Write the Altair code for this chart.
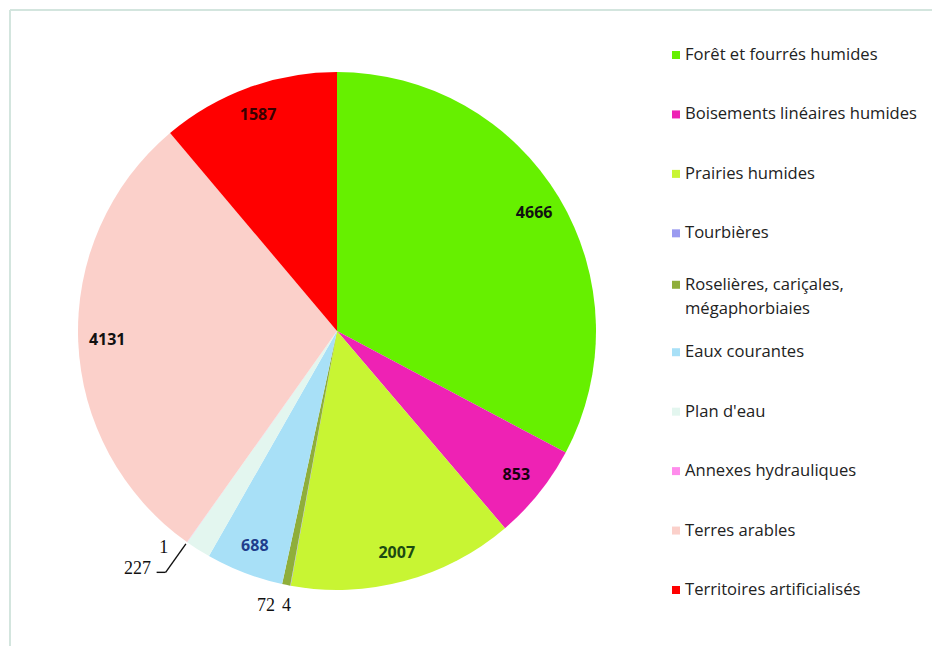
import json

import altair as alt
import pandas as pd

# Wetland / land-cover areas, listed clockwise from 12 o'clock
categories = [
    "Forêt et fourrés humides",
    "Boisements linéaires humides",
    "Prairies humides",
    "Tourbières",
    "Roselières, cariçales, mégaphorbiaies",
    "Eaux courantes",
    "Plan d'eau",
    "Annexes hydrauliques",
    "Terres arables",
    "Territoires artificialisés",
]
values = [4666, 853, 2007, 4, 72, 688, 227, 1, 4131, 1587]

palette = ["#66f000", "#ee22b4", "#c8f533", "#9a9af0", "#8fae3a",
           "#a8e0f7", "#e3f6ef", "#ff8cec", "#fbd0ca", "#ff0000"]
label_palette = ["#111111", "#1a0010", "#1c4a12", "#111111", "#111111",
                 "#1f3d8c", "#111111", "#111111", "#111111", "#3a0000"]

df = pd.DataFrame({
    "category": categories,
    "value": values,
    "idx": list(range(len(categories))),
})

W, H = 922, 636
CX, CY, R = 327, 321, 259

base = alt.Chart(df)
theta = alt.Theta("value:Q", stack=True)
order = alt.Order("idx:Q")
center = dict(x=alt.value(CX), y=alt.value(CY))


def is_category(names):
    return " || ".join("datum.category === " + json.dumps(n) for n in names)


pie = base.mark_arc(outerRadius=R).encode(
    theta=theta,
    order=order,
    color=alt.Color("category:N", scale=alt.Scale(domain=categories, range=palette), legend=None),
    **center,
)


def slice_labels(names, radius, dx=0, dy=0, font="Open Sans", size=16, weight="bold"):
    return base.mark_text(
        radius=radius, dx=dx, dy=dy, font=font, fontSize=size, fontWeight=weight,
        align="center", baseline="middle",
    ).encode(
        theta=theta,
        order=order,
        text=alt.condition(is_category(names), "value:N", alt.value("")),
        color=alt.Color("category:N", scale=alt.Scale(domain=categories, range=label_palette), legend=None),
        **center,
    )


inside = slice_labels(
    ["Forêt et fourrés humides", "Boisements linéaires humides", "Prairies humides",
     "Eaux courantes", "Terres arables", "Territoires artificialisés"],
    radius=230,
)
serif = dict(font="Liberation Serif", size=18, weight="normal")
lab_tourb = slice_labels(["Tourbières"], radius=280, **serif)
lab_rosel = slice_labels(["Roselières, cariçales, mégaphorbiaies"], radius=280, dx=-16, **serif)
lab_plan = slice_labels(["Plan d'eau"], radius=280, dx=-49, dy=2, **serif)
lab_annex = slice_labels(["Annexes hydrauliques"], radius=280, dx=-11, dy=-11, **serif)

# Leader line from the "227" label to the edge of its slice
lead_base = (
    base.transform_joinaggregate(total="sum(value)")
    .transform_window(cum="sum(value)", sort=[alt.SortField("idx")], frame=[None, 0])
    .transform_filter(is_category(["Plan d'eau"]))
    .transform_calculate(
        a="2 * PI * datum.cum / datum.total",
        xa=f"{CX} + {R + 2} * sin(datum.a)",
        ya=f"{CY} - {R + 2} * cos(datum.a)",
        xb=f"{CX} + 296 * sin(datum.a)",
        yb=f"{CY} - 296 * cos(datum.a)",
        xc="datum.xb - 9",
    )
)
lead_radial = lead_base.mark_rule(color="#111111", strokeWidth=1.4).encode(
    x=alt.X("xa:Q", scale=None), y=alt.Y("ya:Q", scale=None),
    x2="xb:Q", y2="yb:Q",
)
lead_flat = lead_base.mark_rule(color="#111111", strokeWidth=1.4).encode(
    x=alt.X("xb:Q", scale=None), x2="xc:Q", y=alt.Y("yb:Q", scale=None),
)

# Legend column on the right
legend_y = alt.Y(
    "category:N",
    scale=alt.Scale(type="point", domain=categories, range=[45, 580], padding=0),
    axis=None,
)
legend_color = alt.Color("category:N", scale=alt.Scale(domain=categories, range=palette), legend=None)
single_line = "indexof(datum.category, ',') < 0"
two_lines = "indexof(datum.category, ',') >= 0"

swatch_single = base.transform_filter(single_line).mark_square(
    size=64, opacity=1
).encode(x=alt.value(666), y=legend_y, color=legend_color)
swatch_multi = base.transform_filter(two_lines).mark_square(
    size=64, opacity=1, yOffset=-8
).encode(x=alt.value(666), y=legend_y, color=legend_color)

legend_font = dict(align="left", baseline="middle", lineBreak="\n", lineHeight=24,
                   font="Open Sans", fontSize=16.6, color="#222222")
text_single = base.transform_filter(single_line).mark_text(**legend_font).encode(
    x=alt.value(675), y=legend_y, text="category:N"
)
text_multi = base.transform_filter(two_lines).transform_calculate(
    label="replace(datum.category, ', m', ',\\nm')"
).mark_text(dy=-8, **legend_font).encode(
    x=alt.value(675), y=legend_y, text="label:N"
)

# Thin frame along the top and left edges of the chart area
frame_color = "#d3e5de"
frame_top = base.mark_rule(color=frame_color, strokeWidth=2).encode(
    x=alt.value(0), x2=alt.value(W), y=alt.value(0)
)
frame_left = base.mark_rule(color=frame_color, strokeWidth=2).encode(
    x=alt.value(0), y=alt.value(0), y2=alt.value(H)
)

chart = (
    alt.layer(
        frame_top, frame_left,
        pie, inside, lab_tourb, lab_rosel, lab_plan, lab_annex,
        lead_radial, lead_flat, swatch_single, swatch_multi, text_single, text_multi,
    )
    .resolve_scale(x="independent", y="independent", color="independent")
    .properties(
        width=W,
        height=H,
        padding={"left": 10, "top": 10, "right": 0, "bottom": 0},
        autosize=alt.AutoSizeParams(type="none"),
        background="white",
    )
    .configure_view(stroke=None)
)

chart.save("out.html", embed_options={"renderer": "svg", "actions": False})
